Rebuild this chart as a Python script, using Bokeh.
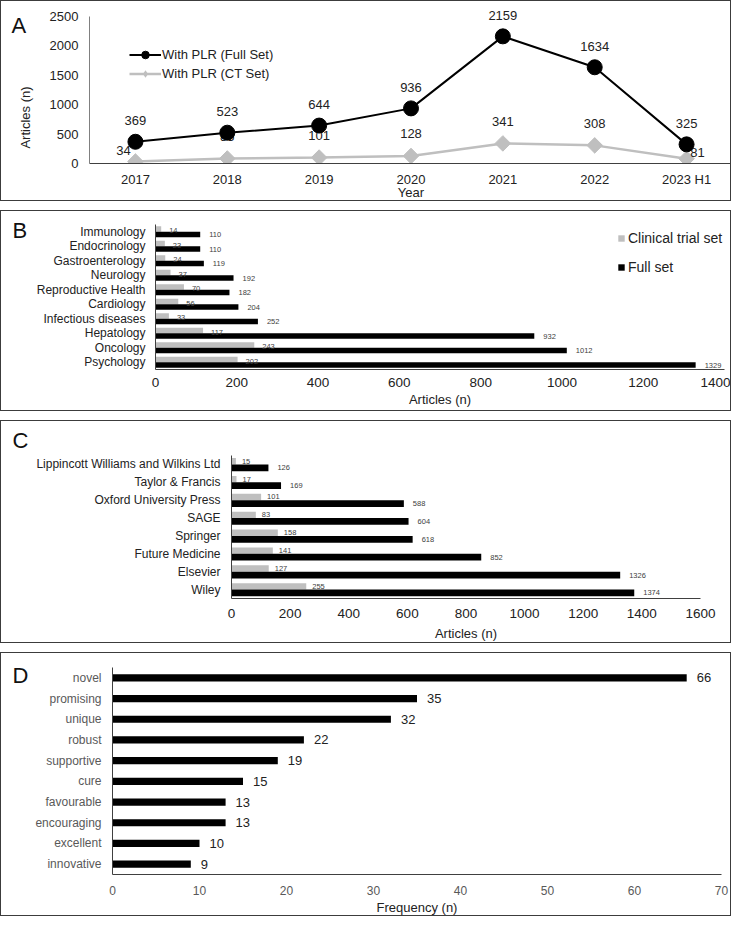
import numpy as np
from bokeh.plotting import figure
from bokeh.models import (ColumnDataSource, Legend, LegendItem, Label, LabelSet,
                          FactorRange, Range1d)
from bokeh.transform import dodge
from bokeh.embed import file_html
from bokeh.resources import INLINE
from bokeh.core.properties import value

FONT = "Liberation Sans"
GRAY = "#BFBFBF"

# ---------------- data ----------------
# Panel A
years = ["2017", "2018", "2019", "2020", "2021", "2022", "2023 H1"]
full_set = [369, 523, 644, 936, 2159, 1634, 325]
ct_set = [34, 85, 101, 128, 341, 308, 81]

# Panel B
specialties = ["Immunology", "Endocrinology", "Gastroenterology", "Neurology",
               "Reproductive Health", "Cardiology", "Infectious diseases",
               "Hepatology", "Oncology", "Psychology"]
spec_ct = [14, 23, 24, 37, 70, 56, 33, 117, 243, 202]
spec_full = [110, 110, 119, 192, 182, 204, 252, 932, 1012, 1329]

# Panel C
publishers = ["Lippincott Williams and Wilkins Ltd", "Taylor & Francis",
              "Oxford University Press", "SAGE", "Springer", "Future Medicine",
              "Elsevier", "Wiley"]
pub_ct = [15, 17, 101, 83, 158, 141, 127, 255]
pub_full = [126, 169, 588, 604, 618, 852, 1326, 1374]

# Panel D
words = ["novel", "promising", "unique", "robust", "supportive", "cure",
         "favourable", "encouraging", "excellent", "innovative"]
word_freq = [66, 35, 32, 22, 19, 15, 13, 13, 10, 9]

W = 731


def base_fig(**kw):
    p = figure(output_backend="svg", toolbar_location=None, width=W, **kw)
    p.grid.visible = False
    p.outline_line_color = None
    p.background_fill_color = "white"
    p.border_fill_color = "white"
    p.styles = {"border": "1px solid #3c3c3c"}
    p.margin = (0, 0, 9, 0)
    for ax in p.axis:
        ax.major_tick_line_color = None
        ax.minor_tick_line_color = None
        ax.major_tick_out = 0
        ax.major_tick_in = 0
        ax.minor_tick_out = 0
        ax.minor_tick_in = 0
        ax.axis_line_color = "#404040"
        ax.axis_line_width = 1
        ax.major_label_text_font = FONT
        ax.major_label_text_color = "#222222"
        ax.axis_label_text_font = FONT
        ax.axis_label_text_font_style = "normal"
        ax.axis_label_text_color = "#222222"
        ax.axis_label_text_font_size = "13px"
    return p


def side_text(p, txt, x, y, size="22px", angle=0.0, align="left"):
    # text placed in the left side panel so that it is not clipped to the frame
    p.add_layout(Label(x=x, y=y, x_units="canvas", y_units="canvas", text=txt,
                       angle=angle, text_font=FONT, text_font_size=size,
                       text_color="#111111" if size == "22px" else "#222222",
                       text_baseline="middle", text_align=align), "left")


# ---------------- Panel A ----------------
hA, topA, botA, leftA = 201, 3, 39, 88
pA = base_fig(height=hA, x_range=FactorRange(factors=years), y_range=Range1d(0, 2700),
              min_border_left=leftA, min_border_right=0, min_border_top=topA,
              min_border_bottom=botA)
srcA = ColumnDataSource(dict(year=years, full=full_set, ct=ct_set,
                             full_lbl=[str(v) for v in full_set],
                             ct_lbl=[str(v) for v in ct_set],
                             dx=[-12, 0, 0, 0, 0, 0, 11],
                             dy=[-11, -22, -22, -22, -22, -22, -6]))
r_ct_line = pA.line("year", "ct", source=srcA, line_color=GRAY, line_width=2.5)
pA.scatter("year", "ct", source=srcA, marker="square", angle=np.pi / 4,
           size=11, fill_color=GRAY, line_color=GRAY)
# legend swatch (diamond) for the CT series; zero size so it adds nothing to the plot
r_ct_key = pA.scatter("year", "ct", source=srcA, marker="diamond", size=0,
                      fill_color=GRAY, line_color=None)
pA.text("year", "ct", text="ct_lbl", source=srcA, x_offset="dx", y_offset="dy",
        text_font=value(FONT), text_font_size="13px", text_color="#222222",
        text_align="center", text_baseline="middle")
r_full_line = pA.line("year", "full", source=srcA, line_color="black", line_width=2)
r_full_pts = pA.scatter("year", "full", source=srcA, marker="circle", size=15,
                        fill_color="black", line_color="black")
pA.add_layout(LabelSet(x="year", y="full", text="full_lbl", source=srcA, y_offset=21,
                       text_font=value(FONT), text_font_size="13px", text_color="#222222",
                       text_align="center", text_baseline="middle"))
pA.yaxis.ticker = [0, 500, 1000, 1500, 2000, 2500]
pA.yaxis.bounds = (0, 2500)
pA.yaxis.major_label_standoff = 11
pA.yaxis.major_label_text_font_size = "13px"
pA.xaxis.axis_label = "Year"
pA.xaxis.major_label_standoff = 8
pA.xaxis.axis_label_standoff = -5
pA.xaxis.major_label_text_font_size = "13px"
pA.yaxis.axis_line_color = "#808080"
legA = Legend(items=[LegendItem(label="With PLR (Full Set)", renderers=[r_full_line, r_full_pts]),
                     LegendItem(label="With PLR (CT Set)", renderers=[r_ct_line, r_ct_key])],
              location=(40, 80), glyph_width=32, glyph_height=19, label_height=19,
              label_standoff=1, padding=0, margin=0, spacing=0,
              border_line_color=None, background_fill_alpha=0,
              label_text_font=FONT, label_text_font_size="13px", label_text_color="#222222")
pA.add_layout(legA)
side_text(pA, "A", 9, 23)
side_text(pA, "Articles (n)", 23, 115, size="13px", angle=np.pi / 2, align="center")

# ---------------- Panel B ----------------
hB, topB, botB, leftB, rightB = 201, 13, 43, 154, 8
pB = base_fig(height=hB, y_range=FactorRange(factors=specialties[::-1]),
              x_range=Range1d(0, 1400), min_border_left=leftB, min_border_right=rightB,
              min_border_top=topB, min_border_bottom=botB)
srcB = ColumnDataSource(dict(cat=specialties, ct=spec_ct, full=spec_full,
                             ct_lbl=[str(v) for v in spec_ct],
                             full_lbl=[str(v) for v in spec_full]))
yB_ct = dodge("cat", 0.19, range=pB.y_range)
yB_full = dodge("cat", -0.19, range=pB.y_range)
rB_ct = pB.hbar(y=yB_ct, left=0, right="ct", height=0.37, source=srcB,
                fill_color=GRAY, line_color=None)
rB_full = pB.hbar(y=yB_full, left=0, right="full", height=0.38, source=srcB,
                  fill_color="black", line_color=None)
pB.text(x="ct", y=yB_ct, text="ct_lbl", source=srcB, x_offset=8, y_offset=2,
        text_font=value(FONT), text_font_size="7.5px", text_color="#404040",
        text_baseline="middle", text_align="left")
pB.text(x="full", y=yB_full, text="full_lbl", source=srcB, x_offset=9,
        text_font=value(FONT), text_font_size="7.5px", text_color="#404040",
        text_baseline="middle", text_align="left")
pB.xaxis.ticker = [0, 200, 400, 600, 800, 1000, 1200, 1400]
pB.xaxis.axis_label = "Articles (n)"
pB.xaxis.major_label_standoff = 8
pB.xaxis.axis_label_standoff = 2
pB.xaxis.major_label_text_font_size = "13.5px"
pB.yaxis.major_label_standoff = 10
pB.yaxis.major_label_text_font_size = "12px"
legB = Legend(items=[LegendItem(label="Clinical trial set", renderers=[rB_ct]),
                     LegendItem(label="Full set", renderers=[rB_full])],
              location=(462, 94), glyph_width=8, glyph_height=8, label_height=17,
              label_standoff=3, padding=0, margin=0, spacing=12,
              border_line_color=None, background_fill_alpha=0,
              label_text_font=FONT, label_text_font_size="14px", label_text_color="#222222")
pB.add_layout(legB)
side_text(pB, "B", 10, 18)

# ---------------- Panel C ----------------
hC, topC, botC, leftC, rightC = 223, 34, 46, 230, 32
pC = base_fig(height=hC, y_range=FactorRange(factors=publishers[::-1]),
              x_range=Range1d(0, 1600), min_border_left=leftC, min_border_right=rightC,
              min_border_top=topC, min_border_bottom=botC)
srcC = ColumnDataSource(dict(cat=publishers, ct=pub_ct, full=pub_full,
                             ct_lbl=[str(v) for v in pub_ct],
                             full_lbl=[str(v) for v in pub_full]))
yC_ct = dodge("cat", 0.18, range=pC.y_range)
yC_full = dodge("cat", -0.19, range=pC.y_range)
pC.hbar(y=yC_ct, left=0, right="ct", height=0.36, source=srcC,
        fill_color=GRAY, line_color=None)
pC.hbar(y=yC_full, left=0, right="full", height=0.38, source=srcC,
        fill_color="black", line_color=None)
pC.text(x="ct", y=yC_ct, text="ct_lbl", source=srcC, x_offset=6,
        text_font=value(FONT), text_font_size="7.5px", text_color="#404040",
        text_baseline="middle", text_align="left")
pC.text(x="full", y=yC_full, text="full_lbl", source=srcC, x_offset=9,
        text_font=value(FONT), text_font_size="7.5px", text_color="#404040",
        text_baseline="middle", text_align="left")
pC.xaxis.ticker = [0, 200, 400, 600, 800, 1000, 1200, 1400, 1600]
pC.xaxis.axis_label = "Articles (n)"
pC.xaxis.major_label_standoff = 10
pC.xaxis.axis_label_standoff = 5
pC.xaxis.major_label_text_font_size = "13.5px"
pC.yaxis.major_label_standoff = 11
pC.yaxis.major_label_text_font_size = "12px"
side_text(pC, "C", 10, 18)

# ---------------- Panel D ----------------
hD, topD, botD, leftD, rightD = 264, 14, 43, 111, 11
pD = base_fig(height=hD, y_range=FactorRange(factors=words[::-1]),
              x_range=Range1d(0, 70), min_border_left=leftD, min_border_right=rightD,
              min_border_top=topD, min_border_bottom=botD)
srcD = ColumnDataSource(dict(word=words, freq=word_freq,
                             lbl=[str(v) for v in word_freq]))
pD.hbar(y="word", left=0, right="freq", height=0.35, source=srcD,
        fill_color="black", line_color=None)
pD.text(x="freq", y="word", text="lbl", source=srcD, x_offset=10,
        text_font=value(FONT), text_font_size="13px", text_color="#222222",
        text_baseline="middle", text_align="left")
pD.xaxis.ticker = [0, 10, 20, 30, 40, 50, 60, 70]
pD.xaxis.axis_label = "Frequency (n)"
pD.xaxis.major_label_standoff = 11
pD.xaxis.axis_label_standoff = 2
pD.xaxis.major_label_text_font_size = "12px"
pD.xaxis.major_label_text_color = "#595959"
pD.yaxis.major_label_standoff = 11
pD.yaxis.major_label_text_font_size = "12px"
pD.yaxis.major_label_text_color = "#595959"
side_text(pD, "D", 10, 21)

open("out.html", "w").write(file_html([pA, pB, pC, pD], INLINE))
